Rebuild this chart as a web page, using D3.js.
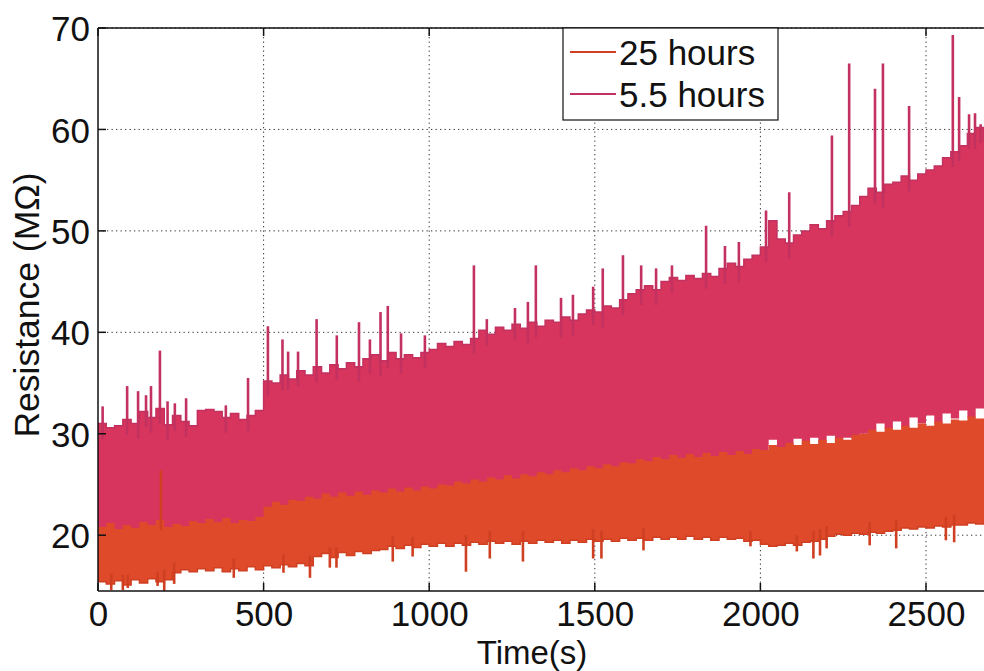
<!DOCTYPE html>
<html>
<head>
<meta charset="utf-8">
<script src="https://cdn.jsdelivr.net/npm/d3@7"></script>
<style>
  html, body { margin: 0; padding: 0; background: #fff; }
  svg { display: block; }
  text { font-family: "Liberation Sans", Arial, Helvetica, sans-serif; fill: #111; }
</style>
</head>
<body>
<svg id="chart" width="984" height="671"></svg>
<script>
// ---- data: envelopes of the dense signals, 25 s bins ----
const times = [0,25,50,75,100,125,150,175,200,225,250,275,300,325,350,375,400,425,450,475,
  500,525,550,575,600,625,650,675,700,725,750,775,800,825,850,875,900,925,950,975,
  1000,1025,1050,1075,1100,1125,1150,1175,1200,1225,1250,1275,1300,1325,1350,1375,1400,1425,1450,1475,
  1500,1525,1550,1575,1600,1625,1650,1675,1700,1725,1750,1775,1800,1825,1850,1875,1900,1925,1950,1975,
  2000,2025,2050,2075,2100,2125,2150,2175,2200,2225,2250,2275,2300,2325,2350,2375,2400,2425,2450,2475,
  2500,2525,2550,2575,2600,2625,2650,2675,2700];

// 5.5 hours
const shortHi = [31.0,30.6,30.8,31.4,31.0,32.2,31.6,32.5,30.9,31.8,31.2,30.8,32.3,32.4,32.2,31.6,32.0,31.4,31.8,32.3,
  35.2,35.0,35.8,35.4,36.2,35.8,36.6,36.0,36.8,36.4,37.0,36.6,37.4,37.8,37.2,38.0,37.4,37.8,37.5,38.0,
  38.3,38.9,38.6,39.1,38.8,39.4,40.2,39.8,40.5,40.2,40.8,40.4,41.0,40.6,41.2,41.0,41.5,41.2,41.8,42.2,
  42.0,42.6,42.4,43.2,43.8,44.2,44.6,44.2,45.0,45.4,45.1,45.6,45.3,45.8,45.5,46.3,46.8,46.5,47.2,47.6,
  48.4,51.0,49.2,48.8,49.6,50.0,50.6,50.2,51.0,51.5,51.9,52.5,53.4,54.2,53.8,54.6,54.8,55.4,55.0,55.6,
  56.0,56.4,57.2,57.8,58.4,59.6,60.2,58.9,58.7];
const shortLo = [19.3,19.6,19.2,19.5,19.3,19.7,19.5,19.8,19.4,19.6,19.5,19.8,19.6,20.0,19.7,20.1,19.7,20.0,19.8,20.2,
  21.2,21.6,21.4,21.8,21.8,22.2,22.0,22.5,22.2,22.6,22.3,22.7,22.4,22.8,22.6,23.0,22.7,23.1,22.8,23.2,
  23.0,23.4,23.3,23.7,23.5,23.9,23.7,24.1,23.9,24.3,24.0,24.4,24.2,24.6,24.4,24.8,24.6,25.0,24.8,25.2,
  25.0,25.4,25.2,25.6,25.5,25.9,25.7,26.1,25.9,26.3,26.0,26.4,26.1,26.5,26.2,26.6,26.3,26.8,27.0,27.5,
  28.0,29.4,28.0,28.5,29.5,28.8,29.6,29.0,29.8,29.2,29.6,29.5,30.0,30.2,31.0,30.5,31.2,30.6,31.6,31.0,
  31.8,31.0,32.0,31.5,32.3,31.6,32.5,31.8,32.0];
const shortSpikeT = [14,88,121,145,160,187,210,232,266,386,453,513,557,574,604,660,721,788,821,853,875,915,987,
  1135,1174,1259,1298,1322,1398,1434,1495,1524,1585,1640,1685,1733,1836,1893,1935,2017,2087,
  2216,2268,2346,2370,2449,2581,2600,2630,2648,2665];
const shortSpikeV = [32.7,34.7,34.2,33.8,34.7,38.2,33.2,33.0,33.5,32.8,35.5,40.6,39.3,38.1,38.1,41.3,39.7,41.0,39.3,42.0,42.6,39.9,39.7,
  46.6,41.3,42.4,43.0,46.6,43.4,43.7,44.5,46.3,47.6,46.6,46.3,46.6,50.5,48.5,48.9,52.0,53.8,
  59.4,66.5,64.0,66.5,62.3,69.3,63.2,61.5,61.6,60.5];

// 25 hours
const longHi = [20.8,21.2,20.6,21.0,20.7,21.3,21.0,21.5,20.8,21.1,20.9,21.4,21.2,21.6,21.3,21.7,21.2,21.5,21.4,21.8,
  22.8,23.3,23.0,23.5,23.4,23.8,23.6,24.1,23.8,24.2,23.9,24.3,24.0,24.4,24.2,24.6,24.3,24.7,24.4,24.8,
  24.6,25.0,24.9,25.3,25.1,25.5,25.3,25.7,25.5,25.9,25.6,26.0,25.8,26.2,26.0,26.4,26.2,26.6,26.4,26.8,
  26.6,27.0,26.8,27.2,27.1,27.5,27.3,27.7,27.5,27.9,27.6,28.0,27.7,28.1,27.8,28.2,27.9,28.3,28.0,28.5,
  28.4,28.9,28.7,29.1,28.9,29.3,29.0,29.4,29.1,29.6,29.4,29.9,30.0,30.4,30.2,30.6,30.4,30.8,30.6,31.0,
  30.8,31.2,31.0,31.4,31.3,31.7,31.5,31.8,31.6];
const longLo = [15.4,15.2,15.5,15.1,15.6,15.3,15.7,15.4,15.6,16.3,16.6,16.4,16.7,16.5,16.8,16.4,16.7,16.5,16.9,16.6,
  17.0,16.8,17.1,16.9,17.2,17.0,17.9,18.2,17.8,18.3,18.0,18.4,18.2,18.5,18.6,18.9,18.7,19.0,18.8,19.1,
  18.9,19.2,18.9,19.2,19.0,19.3,19.1,19.4,19.2,19.4,19.1,19.4,19.2,19.5,19.3,19.5,19.2,19.5,19.3,19.6,
  19.4,19.6,19.4,19.7,19.5,19.7,19.5,19.8,19.6,19.8,19.6,19.9,19.6,19.8,19.5,19.8,19.6,19.7,19.4,19.5,
  19.1,18.9,19.0,19.2,19.0,19.3,19.4,19.6,19.9,20.1,20.0,20.2,20.1,20.3,20.2,20.4,20.5,20.7,20.6,20.8,
  20.7,20.9,20.8,21.0,21.0,21.2,21.1,21.3,21.3];
const longSpikeT = [40,75,90,180,190,200,230,410,560,640,700,720,890,950,1111,1183,1283,1495,1520,1647,
  1970,2110,2160,2180,2200,2330,2410,2560,2585];
const longSpikeV = [14.6,14.6,14.8,15.0,26.4,14.5,15.2,15.8,16.3,15.8,16.8,16.8,17.4,17.9,16.4,17.7,17.4,17.7,17.7,18.5,
  18.9,18.4,17.7,18.0,18.7,19.0,18.7,19.5,19.3];

const seriesNames = ["25 hours", "5.5 hours"];
const xTicks = [0,500,1000,1500,2000,2500];
const yTicks = [20,30,40,50,60,70];

// ---- layout ----
const W = 984, H = 671;
const pL = 98, pT = 28, pB = 591;
const colShort = "#d7355d", colShortEdge = "#c2315f";
const colLong = "#df4a2b", colLongEdge = "#cf3f22";

const svg = d3.select("#chart");
const x = d3.scaleLinear().domain([0, 2700]).range([pL, pL + 2700 * 0.3312]);
const y = d3.scaleLinear().domain([14.5, 70]).range([pB, pT]);
const pR = x(2700);

// grid
const grid = svg.append("g");
grid.selectAll("line.gx").data(xTicks.filter(d => d > 0)).enter().append("line")
  .attr("x1", d => x(d)).attr("x2", d => x(d)).attr("y1", pT).attr("y2", pB)
  .attr("stroke", "#333").attr("stroke-width", 1).attr("stroke-dasharray", "1.3,3.2");
grid.selectAll("line.gy").data(yTicks).enter().append("line")
  .attr("x1", pL).attr("x2", pR).attr("y1", d => y(d)).attr("y2", d => y(d))
  .attr("stroke", "#333").attr("stroke-width", 1).attr("stroke-dasharray", "1.3,3.2");

// data
svg.append("clipPath").attr("id", "plotclip").append("rect")
  .attr("x", pL).attr("y", pT).attr("width", pR - pL).attr("height", pB - pT);
const plot = svg.append("g").attr("clip-path", "url(#plotclip)");

function rows(hi, lo) { return times.map((t, i) => ({ t, hi: hi[i], lo: lo[i] })); }
const area = d3.area().x(d => x(d.t)).y0(d => y(d.lo)).y1(d => y(d.hi)).curve(d3.curveStepAfter);
const lineHi = d3.line().x(d => x(d.t)).y(d => y(d.hi)).curve(d3.curveStepAfter);
const lineLo = d3.line().x(d => x(d.t)).y(d => y(d.lo)).curve(d3.curveStepAfter);

const shortRows = rows(shortHi, shortLo);
const longRows = rows(longHi, longLo);
const idx = t => Math.min(times.length - 1, Math.floor(t / 25));

// 5.5 hours
plot.append("path").datum(shortRows).attr("d", area).attr("fill", colShort);
plot.selectAll("line.ss").data(shortSpikeT).enter().append("line")
  .attr("x1", d => x(d)).attr("x2", d => x(d))
  .attr("y1", (d, i) => y(shortSpikeV[i])).attr("y2", d => y(shortHi[idx(d)] - 1.5))
  .attr("stroke", colShortEdge).attr("stroke-width", 2.6);
plot.append("path").datum(shortRows).attr("d", lineHi).attr("fill", "none")
  .attr("stroke", colShortEdge).attr("stroke-width", 1.5);

// 25 hours
plot.append("path").datum(longRows).attr("d", area).attr("fill", colLong);
plot.selectAll("line.ls").data(longSpikeT).enter().append("line")
  .attr("x1", d => x(d)).attr("x2", d => x(d))
  .attr("y1", (d, i) => y(longSpikeV[i]))
  .attr("y2", (d, i) => longSpikeV[i] > longHi[idx(d)] ? y(longHi[idx(d)] - 1) : y(longLo[idx(d)] + 1))
  .attr("stroke", colLongEdge).attr("stroke-width", 2.6);
plot.append("path").datum(longRows).attr("d", lineLo).attr("fill", "none")
  .attr("stroke", colLongEdge).attr("stroke-width", 1.5);

// axes
const axG = svg.append("g");
axG.append("line").attr("x1", pL).attr("x2", pL).attr("y1", pT).attr("y2", pB).attr("stroke", "#111").attr("stroke-width", 1.5);
axG.append("line").attr("x1", pL).attr("x2", W).attr("y1", pB).attr("y2", pB).attr("stroke", "#111").attr("stroke-width", 1.5);
axG.append("line").attr("x1", pL).attr("x2", W).attr("y1", pT).attr("y2", pT).attr("stroke", "#111").attr("stroke-width", 1.5);

const xAxis = d3.axisBottom(x).tickValues(xTicks).tickSize(0).tickPadding(0).tickFormat(d3.format("d"));
const gx = svg.append("g").attr("transform", `translate(0,${pB})`).call(xAxis);
gx.select(".domain").remove();
gx.selectAll("text").attr("y", 35).attr("dy", 0).style("font-size", "35px")
  .style("font-family", '"Liberation Sans", Arial, sans-serif').attr("fill", "#111");

const yAxis = d3.axisLeft(y).tickValues(yTicks).tickSize(0).tickPadding(0).tickFormat(d3.format("d"));
const gy = svg.append("g").attr("transform", `translate(${pL},0)`).call(yAxis);
gy.select(".domain").remove();
gy.selectAll("text").attr("x", -8).attr("dy", "0.36em").style("font-size", "35px")
  .style("font-family", '"Liberation Sans", Arial, sans-serif').attr("fill", "#111");

// inward tick marks
const tk = svg.append("g").attr("stroke", "#111").attr("stroke-width", 1.5);
tk.selectAll("line.tb").data(xTicks).enter().append("line")
  .attr("x1", d => x(d)).attr("x2", d => x(d)).attr("y1", pB).attr("y2", pB - 8);
tk.selectAll("line.tt").data(xTicks).enter().append("line")
  .attr("x1", d => x(d)).attr("x2", d => x(d)).attr("y1", pT).attr("y2", pT + 8);
tk.selectAll("line.tl").data(yTicks).enter().append("line")
  .attr("x1", pL).attr("x2", pL + 8).attr("y1", d => y(d)).attr("y2", d => y(d));

// axis titles
svg.append("text").attr("x", 532).attr("y", 664).attr("text-anchor", "middle")
  .style("font-size", "33px").text("Time(s)");
svg.append("text").attr("transform", "translate(39,305) rotate(-90)").attr("text-anchor", "middle")
  .style("font-size", "35.5px").text("Resistance (MΩ)");

// legend
const lg = svg.append("g");
lg.append("rect").attr("x", 563).attr("y", pT).attr("width", 215).attr("height", 92)
  .attr("fill", "#fff").attr("stroke", "#111").attr("stroke-width", 1.2);
const legColors = [colLongEdge, colShortEdge];
const legY = [52, 94];
seriesNames.forEach((name, i) => {
  lg.append("line").attr("x1", 570).attr("x2", 616).attr("y1", legY[i]).attr("y2", legY[i])
    .attr("stroke", legColors[i]).attr("stroke-width", 2);
  lg.append("text").attr("x", 619).attr("y", legY[i] + 13).style("font-size", "35px").text(name);
});
</script>
</body>
</html>
